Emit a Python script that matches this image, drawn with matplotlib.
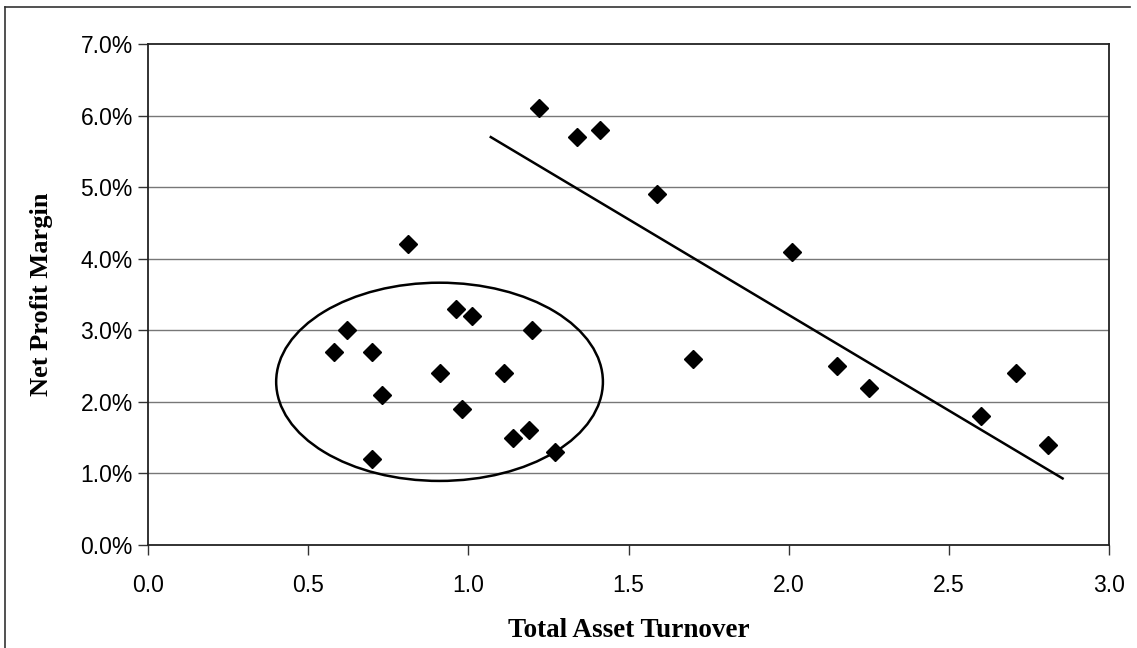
import matplotlib.pyplot as plt
from matplotlib.patches import Ellipse
from matplotlib.lines import Line2D
from matplotlib.ticker import FuncFormatter

# Total asset turnover vs. net profit margin (%)
turnover = [0.58, 0.62, 0.70, 0.70, 0.73, 0.81, 0.91, 0.96, 0.98, 1.01,
            1.11, 1.14, 1.19, 1.20, 1.27, 1.22, 1.34, 1.41, 1.59, 1.70,
            2.01, 2.15, 2.25, 2.60, 2.71, 2.81]
margin = [2.7, 3.0, 2.7, 1.2, 2.1, 4.2, 2.4, 3.3, 1.9, 3.2,
          2.4, 1.5, 1.6, 3.0, 1.3, 6.1, 5.7, 5.8, 4.9, 2.6,
          4.1, 2.5, 2.2, 1.8, 2.4, 1.4]

# hand-drawn trend line endpoints
trend_x = [1.07, 2.855]
trend_y = [5.7, 0.93]

# circled cluster: centre, width, height
cluster_center = (0.91, 2.28)
cluster_width = 1.02
cluster_height = 2.77

x_ticks = [0.0, 0.5, 1.0, 1.5, 2.0, 2.5, 3.0]
y_ticks = [0, 1, 2, 3, 4, 5, 6, 7]

fig = plt.figure(figsize=(11.37, 6.48), dpi=100)
ax = fig.add_axes([0.1302, 0.159, 0.8452, 0.773])

for y in y_ticks[1:-1]:
    ax.axhline(y, color='#777777', lw=1.0, zorder=1)

ax.plot(turnover, margin, linestyle='none', marker='D', ms=9,
        color='black', zorder=3)
ax.plot(trend_x, trend_y, color='black', lw=1.8, zorder=2)
ax.add_patch(Ellipse(cluster_center, cluster_width, cluster_height,
                     fill=False, edgecolor='black', lw=1.8, zorder=2))

ax.set_xlim(0, 3.0)
ax.set_ylim(0, 7)
ax.set_xticks(x_ticks)
ax.set_yticks(y_ticks)
ax.xaxis.set_major_formatter(FuncFormatter(lambda v, p: f'{v:.1f}'))
ax.yaxis.set_major_formatter(FuncFormatter(lambda v, p: f'{v:.1f}%'))

tick_font = 'Liberation Sans'
for lab in ax.get_xticklabels() + ax.get_yticklabels():
    lab.set_fontfamily(tick_font)
ax.tick_params(axis='both', direction='out', length=7, width=1.0,
               labelsize=16.5, color='#333333')
ax.tick_params(axis='x', pad=14)
ax.tick_params(axis='y', pad=4)

for side in ['left', 'bottom', 'top', 'right']:
    ax.spines[side].set_linewidth(1.3)
    ax.spines[side].set_color('#222222')

ax.set_xlabel('Total Asset Turnover', fontfamily='Liberation Serif',
              fontweight='bold', fontsize=19.5, labelpad=15)
ax.set_ylabel('Net Profit Margin', fontfamily='Liberation Serif',
              fontweight='bold', fontsize=19, labelpad=20)

# outer frame (top and left edges)
fig.add_artist(Line2D([5 / 1137, 1130 / 1137], [1 - 7 / 648, 1 - 7 / 648],
                      transform=fig.transFigure, color='#333333', lw=1.2))
fig.add_artist(Line2D([5 / 1137, 5 / 1137], [0, 1 - 7 / 648],
                      transform=fig.transFigure, color='#333333', lw=1.2))

fig.savefig('out.png', dpi=100)
